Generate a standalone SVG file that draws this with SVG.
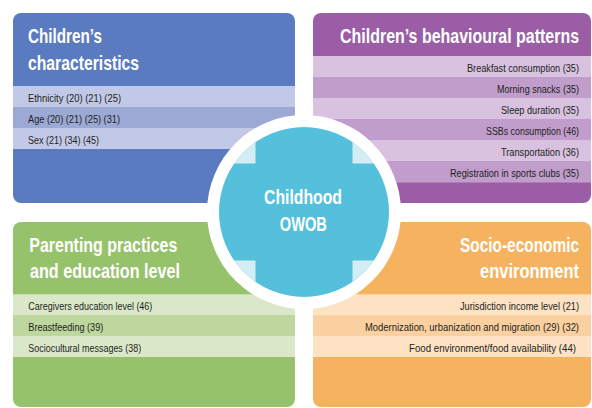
<svg xmlns="http://www.w3.org/2000/svg" width="592" height="408" viewBox="0 0 592 408">
<style>
.t{font-family:"Liberation Sans",Arial,sans-serif;font-weight:bold;font-size:19.5px;fill:#ffffff}
.r{font-family:"Liberation Sans",Arial,sans-serif;font-size:11px;fill:#231f20}
.e{text-anchor:end}
.m{text-anchor:middle}
</style>
<defs>
<clipPath id="cc"><circle cx="304" cy="212" r="85"/></clipPath>
</defs>
<rect width="592" height="408" fill="#ffffff"/>
<g id="node-children-characteristics">
<rect x="13" y="13" width="282" height="190" rx="8" fill="#5a7bbf"/>
<rect x="13" y="86" width="282" height="21" fill="#c2c9e7"/>
<rect x="13" y="107" width="282" height="21" fill="#9ca9d5"/>
<rect x="13" y="128" width="282" height="21" fill="#c2c9e7"/>
<text class="t" transform="translate(28 43) scale(0.8 1)" textLength="92.5" lengthAdjust="spacingAndGlyphs">Children’s</text>
<text class="t" transform="translate(28 70) scale(0.8 1)" textLength="138.75" lengthAdjust="spacingAndGlyphs">characteristics</text>
<text class="r" transform="translate(28 101.7) scale(0.85 1)" textLength="109.4" lengthAdjust="spacingAndGlyphs">Ethnicity (20) (21) (25)</text>
<text class="r" transform="translate(28 122.7) scale(0.85 1)" textLength="108.2" lengthAdjust="spacingAndGlyphs">Age (20) (21) (25) (31)</text>
<text class="r" transform="translate(28 143.7) scale(0.85 1)" textLength="83.5" lengthAdjust="spacingAndGlyphs">Sex (21) (34) (45)</text>
</g>
<g id="node-behavioural-patterns">
<rect x="313" y="13" width="278" height="190" rx="8" fill="#9b5ea6"/>
<rect x="313" y="56" width="278" height="21" fill="#d8c2e0"/>
<rect x="313" y="77" width="278" height="21" fill="#c19dcc"/>
<rect x="313" y="98" width="278" height="21" fill="#d8c2e0"/>
<rect x="313" y="119" width="278" height="21" fill="#c19dcc"/>
<rect x="313" y="140" width="278" height="21" fill="#d8c2e0"/>
<rect x="313" y="161" width="278" height="21.5" fill="#c19dcc"/>
<text class="t e" transform="translate(579 43) scale(0.8 1)" textLength="298.75" lengthAdjust="spacingAndGlyphs">Children’s behavioural patterns</text>
<text class="r e" transform="translate(579 71.7) scale(0.85 1)" textLength="131.8" lengthAdjust="spacingAndGlyphs">Breakfast consumption (35)</text>
<text class="r e" transform="translate(579 92.8) scale(0.85 1)" textLength="96.5" lengthAdjust="spacingAndGlyphs">Morning snacks (35)</text>
<text class="r e" transform="translate(579 113.9) scale(0.85 1)" textLength="91.8" lengthAdjust="spacingAndGlyphs">Sleep duration (35)</text>
<text class="r e" transform="translate(579 135) scale(0.85 1)" textLength="109.4" lengthAdjust="spacingAndGlyphs">SSBs consumption (46)</text>
<text class="r e" transform="translate(579 156.1) scale(0.85 1)" textLength="91.8" lengthAdjust="spacingAndGlyphs">Transportation (36)</text>
<text class="r e" transform="translate(579 177.2) scale(0.85 1)" textLength="151.8" lengthAdjust="spacingAndGlyphs">Registration in sports clubs (35)</text>
</g>
<g id="node-parenting-practices">
<rect x="13" y="222" width="282" height="185" rx="8" fill="#97c26c"/>
<rect x="13" y="294.3" width="282" height="20.7" fill="#dae8c9"/>
<rect x="13" y="315" width="282" height="21" fill="#bed79f"/>
<rect x="13" y="336" width="282" height="21" fill="#dae8c9"/>
<text class="t" transform="translate(29.3 252.3) scale(0.8 1)" textLength="185" lengthAdjust="spacingAndGlyphs">Parenting practices</text>
<text class="t" transform="translate(30 278.3) scale(0.8 1)" textLength="187.5" lengthAdjust="spacingAndGlyphs">and education level</text>
<text class="r" transform="translate(28.3 310) scale(0.85 1)" textLength="145.9" lengthAdjust="spacingAndGlyphs">Caregivers education level (46)</text>
<text class="r" transform="translate(28.3 331) scale(0.85 1)" textLength="88.2" lengthAdjust="spacingAndGlyphs">Breastfeeding (39)</text>
<text class="r" transform="translate(28.3 352) scale(0.85 1)" textLength="132.9" lengthAdjust="spacingAndGlyphs">Sociocultural messages (38)</text>
</g>
<g id="node-socio-economic">
<rect x="313" y="222" width="278" height="185" rx="8" fill="#f6b35f"/>
<rect x="313" y="294.3" width="278" height="20.7" fill="#fde2c3"/>
<rect x="313" y="315" width="278" height="21" fill="#fbd0a0"/>
<rect x="313" y="336" width="278" height="21" fill="#fde2c3"/>
<text class="t e" transform="translate(579 251.7) scale(0.8 1)" textLength="148.75" lengthAdjust="spacingAndGlyphs">Socio-economic</text>
<text class="t e" transform="translate(579 278.3) scale(0.8 1)" textLength="123.75" lengthAdjust="spacingAndGlyphs">environment</text>
<text class="r e" transform="translate(579 310) scale(0.85 1)" textLength="140" lengthAdjust="spacingAndGlyphs">Jurisdiction income level (21)</text>
<text class="r e" transform="translate(579 331) scale(0.85 1)" textLength="251.8" lengthAdjust="spacingAndGlyphs">Modernization, urbanization and migration (29) (32)</text>
<text class="r e" transform="translate(576 352) scale(0.85 1)" textLength="196.5" lengthAdjust="spacingAndGlyphs">Food environment/food availability (44)</text>
</g>
<g id="node-childhood-owob">
<circle cx="304" cy="212" r="97" fill="#ffffff"/>
<circle cx="304" cy="212" r="85" fill="#54c0db"/>
<g clip-path="url(#cc)" fill="#d3edf4">
<rect x="215" y="125" width="40.5" height="38.5"/>
<rect x="352.5" y="125" width="40" height="38.5"/>
<rect x="215" y="260.5" width="40.5" height="40"/>
<rect x="352.5" y="260.5" width="40" height="40"/>
</g>
<text class="t m" transform="translate(303 204) scale(0.8 1)" textLength="97.5" lengthAdjust="spacingAndGlyphs">Childhood</text>
<text class="t m" transform="translate(303.3 231) scale(0.8 1)" textLength="58.75" lengthAdjust="spacingAndGlyphs">OWOB</text>
</g>
</svg>
